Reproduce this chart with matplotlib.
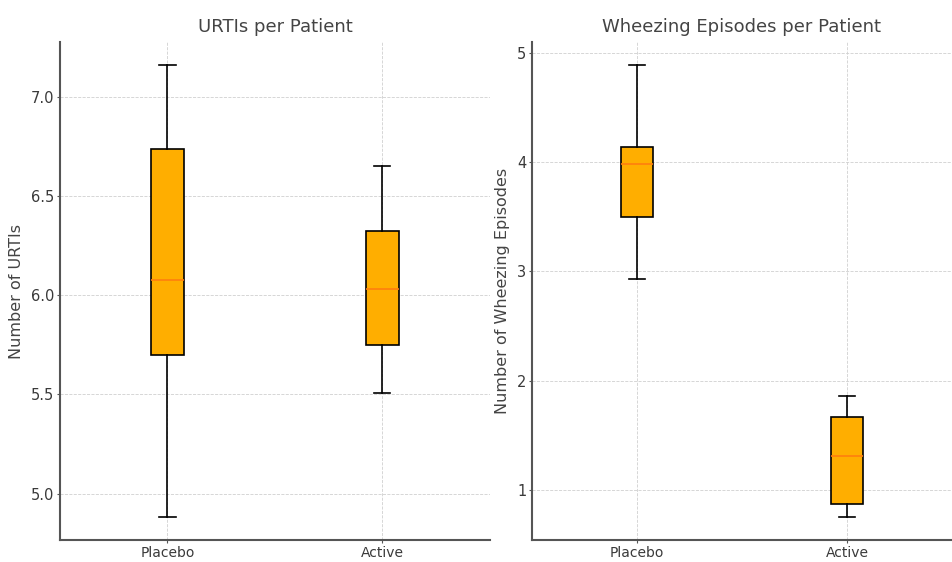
import matplotlib.pyplot as plt

# data (whisker low, Q1, median, Q3, whisker high)
groups = ["Placebo", "Active"]
urti_low = [4.88, 5.505]
urti_q1 = [5.70, 5.75]
urti_med = [6.075, 6.03]
urti_q3 = [6.735, 6.325]
urti_high = [7.16, 6.65]

wheeze_low = [2.93, 0.75]
wheeze_q1 = [3.50, 0.875]
wheeze_med = [3.98, 1.31]
wheeze_q3 = [4.135, 1.665]
wheeze_high = [4.89, 1.86]

text_color = "#3a3a3a"
box_color = "#FFAE00"
median_color = "#FF7F0E"


def make_stats(low, q1, med, q3, high):
    stats = []
    for i in range(len(groups)):
        stats.append({"label": groups[i], "whislo": low[i], "q1": q1[i],
                      "med": med[i], "q3": q3[i], "whishi": high[i], "fliers": []})
    return stats


def draw_box(ax, stats, title, ylabel):
    ax.bxp(stats, widths=0.15, patch_artist=True, showfliers=False,
           boxprops=dict(facecolor=box_color, edgecolor="black", linewidth=1.2),
           medianprops=dict(color=median_color, linewidth=1.2),
           whiskerprops=dict(color="black", linewidth=1.2),
           capprops=dict(color="black", linewidth=1.2))
    ax.set_title(title, fontsize=13, color="#444444", pad=7)
    ax.set_ylabel(ylabel, fontsize=11.5, color="#444444", labelpad=5)
    ax.grid(True, linestyle="--", linewidth=0.6, color="#d0d0d0")
    ax.set_axisbelow(True)
    for side in ["top", "right"]:
        ax.spines[side].set_visible(False)
    for side in ["left", "bottom"]:
        ax.spines[side].set_color("#555555")
        ax.spines[side].set_linewidth(1.5)
    ax.tick_params(colors=text_color, length=2.5, pad=1.5, color="#555555")
    ax.tick_params(axis="x", labelsize=10)
    ax.tick_params(axis="y", labelsize=10.5)


fig = plt.figure(figsize=(9.53, 5.62), dpi=100)
ax1 = fig.add_axes([0.063, 0.039, 0.451, 0.886])
ax2 = fig.add_axes([0.558, 0.039, 0.441, 0.886])

draw_box(ax1, make_stats(urti_low, urti_q1, urti_med, urti_q3, urti_high),
         "URTIs per Patient", "Number of URTIs")
draw_box(ax2, make_stats(wheeze_low, wheeze_q1, wheeze_med, wheeze_q3, wheeze_high),
         "Wheezing Episodes per Patient", "Number of Wheezing Episodes")
ax2.set_yticks([1, 2, 3, 4, 5])

fig.savefig("out.png", dpi=100)
